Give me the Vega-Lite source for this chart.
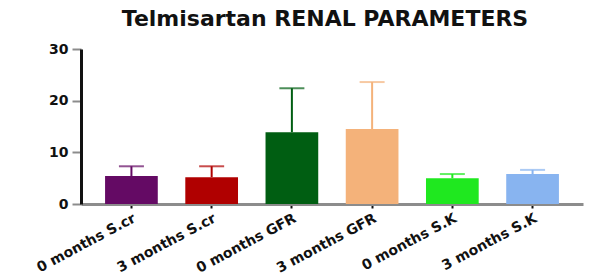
{
  "$schema": "https://vega.github.io/schema/vega-lite/v6.json",
  "autosize": {"type": "none"},
  "width": 502,
  "height": 155,
  "padding": {"left": 81, "top": 49, "right": 9, "bottom": 71},
  "background": "white",
  "title": {
    "text": "Telmisartan RENAL PARAMETERS",
    "font": "DejaVu Sans",
    "fontWeight": "bold",
    "fontSize": 22,
    "color": "#111111",
    "anchor": "middle",
    "dx": -7,
    "offset": 11
  },
  "config": {"view": {"stroke": null}},
  "data": {
    "values": [
      {"label": "0 months S.cr", "mean": 5.4, "upper": 7.3},
      {"label": "3 months S.cr", "mean": 5.2, "upper": 7.3},
      {"label": "0 months GFR", "mean": 13.9, "upper": 22.4},
      {"label": "3 months GFR", "mean": 14.5, "upper": 23.6},
      {"label": "0 months S.K", "mean": 5.0, "upper": 5.8},
      {"label": "3 months S.K", "mean": 5.8, "upper": 6.6}
    ]
  },
  "encoding": {
    "x": {
      "field": "label",
      "type": "nominal",
      "sort": null,
      "title": null,
      "scale": {"paddingInner": 0.343, "paddingOuter": 0.3},
      "axis": {
        "labelAngle": -28,
        "labelAlign": "right",
        "labelBaseline": "top",
        "labelFont": "DejaVu Sans",
        "labelFontWeight": "bold",
        "labelFontSize": 14,
        "labelColor": "#111111",
        "labelPadding": 3,
        "domainColor": "#8c8c8c",
        "domainWidth": 3,
        "tickColor": "#111111",
        "tickWidth": 2,
        "tickSize": 4
      }
    },
    "color": {
      "field": "label",
      "type": "nominal",
      "sort": null,
      "legend": null,
      "scale": {
        "domain": ["0 months S.cr", "3 months S.cr", "0 months GFR", "3 months GFR", "0 months S.K", "3 months S.K"],
        "range": ["#640a64", "#b00000", "#005e12", "#f4b27a", "#1fe81f", "#88b4f0"]
      }
    }
  },
  "layer": [
    {
      "mark": {"type": "rule", "strokeWidth": 2},
      "encoding": {
        "y": {"field": "mean", "type": "quantitative"},
        "y2": {"field": "upper"}
      }
    },
    {
      "mark": {"type": "tick", "orient": "horizontal", "size": 25, "thickness": 2},
      "encoding": {
        "y": {"field": "upper", "type": "quantitative"}
      }
    },
    {
      "mark": {"type": "bar"},
      "encoding": {
        "y": {
          "field": "mean",
          "type": "quantitative",
          "title": null,
          "scale": {"domain": [0, 30], "nice": false},
          "axis": {
            "values": [0, 10, 20, 30],
            "grid": false,
            "labelFont": "DejaVu Sans",
            "labelFontWeight": "bold",
            "labelFontSize": 14,
            "labelColor": "#111111",
            "labelPadding": 4,
            "domainColor": "#111111",
            "domainWidth": 3,
            "tickColor": "#8c8c8c",
            "tickWidth": 2,
            "tickSize": 9
          }
        }
      }
    }
  ]
}
